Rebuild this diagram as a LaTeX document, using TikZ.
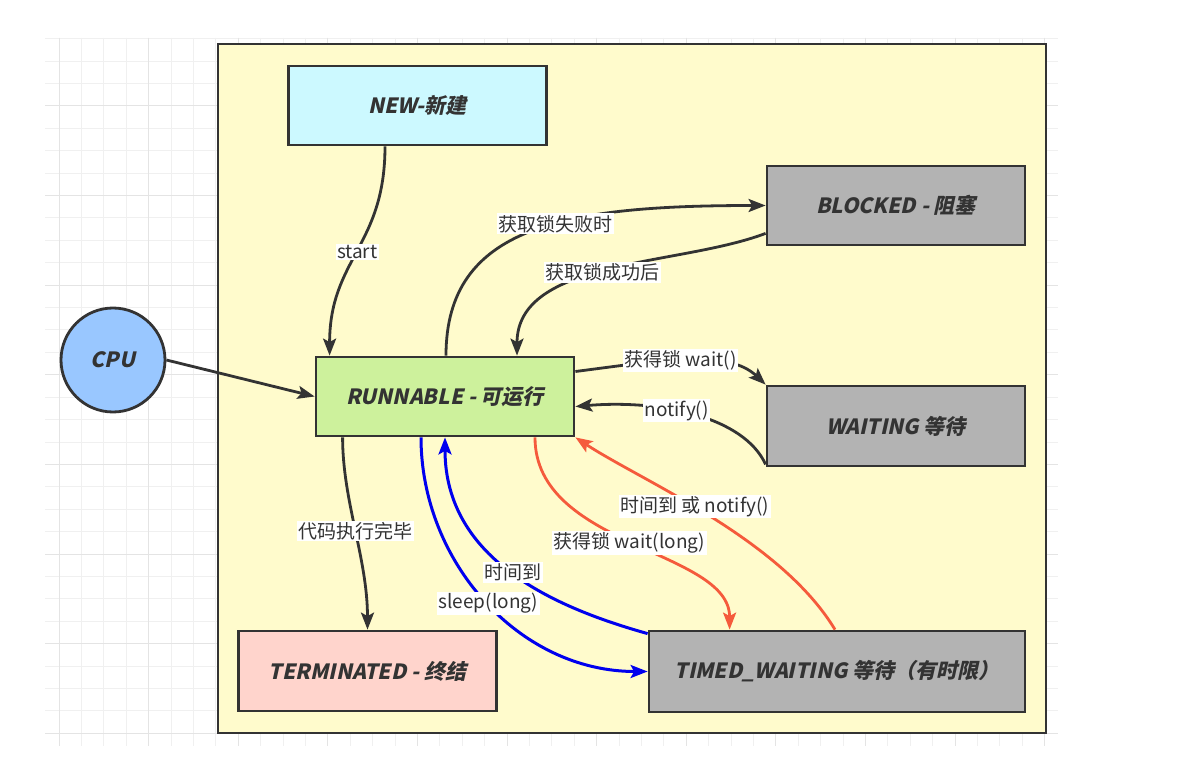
\documentclass[tikz,border=0pt]{standalone}
\usepackage{fontspec}
\setmainfont{Noto Sans CJK SC}
\newfontfamily\boxfont[FakeSlant=0.22]{Noto Sans CJK SC}
\newfontfamily\lblfont{Noto Sans CJK SC}
\usetikzlibrary{arrows.meta}
\definecolor{ink}{HTML}{333333}
\definecolor{gridminor}{HTML}{F0F0F0}
\definecolor{gridmajor}{HTML}{E4E4E4}
\definecolor{framefill}{HTML}{FFFBCC}
\definecolor{newfill}{HTML}{CCF9FF}
\definecolor{runfill}{HTML}{CDF19C}
\definecolor{grayfill}{HTML}{B3B3B3}
\definecolor{termfill}{HTML}{FFD4CC}
\definecolor{cpufill}{HTML}{99C7FF}
\definecolor{redline}{HTML}{F55A3C}
\definecolor{blueline}{HTML}{0000EE}
\tikzset{
  state/.style={draw=ink, line width=2.8pt, minimum height=79pt, minimum width=258pt,
    inner sep=0pt, text=ink, font=\boxfont\bfseries\fontsize{21}{25}\selectfont},
  lbl/.style={fill=white, inner sep=1.5pt, text=ink, font=\lblfont\fontsize{19}{22}\selectfont},
  tip/.style={-{Stealth[length=17pt,width=13pt,inset=3.5pt]}, line join=miter},
  conn/.style={draw=ink, line width=2.8pt, tip},
  bconn/.style={draw=blueline, line width=3pt, tip},
  rconn/.style={draw=redline, line width=2.8pt, tip},
}
\begin{document}
\begin{tikzpicture}[x=1pt,y=-1pt]
\useasboundingbox (0,0) rectangle (1193,775);
\fill[white] (0,0) rectangle (1193,775);
% background grid
\foreach \k in {0,...,44} {
  \pgfmathsetmacro\xx{59+22.4*\k}
  \draw[gridminor, line width=1pt] (\xx,38) -- (\xx,746);
}
\foreach \k in {0,...,31} {
  \pgfmathsetmacro\yy{38.8+22.4*\k}
  \draw[gridminor, line width=1pt] (45,\yy) -- (1058,\yy);
}
\foreach \k in {0,4,...,44} {
  \pgfmathsetmacro\xx{59+22.4*\k}
  \draw[gridmajor, line width=1pt] (\xx,38) -- (\xx,746);
}
\foreach \k in {3,7,...,31} {
  \pgfmathsetmacro\yy{38.8+22.4*\k}
  \draw[gridmajor, line width=1pt] (45,\yy) -- (1058,\yy);
}
% container
\draw[draw=ink, fill=framefill, line width=2.8pt] (218,44) rectangle (1046,733);

% states
\node[state, fill=newfill] (new) at (417.5,105.5) {NEW-新建};
\node[state, fill=grayfill] (blocked) at (896,205.5) {BLOCKED - 阻塞};
\node[state, fill=runfill] (run) at (445,396.5) {RUNNABLE - 可运行};
\node[state, fill=grayfill, minimum height=80pt] (waiting) at (896,426) {WAITING 等待};
\node[state, fill=termfill, minimum height=80pt] (term) at (367.5,671) {TERMINATED - 终结};
\node[state, fill=grayfill, minimum width=376pt, minimum height=81pt] (timed) at (837,671.5) {TIMED\_WAITING 等待（有时限）};
\node[circle, draw=ink, line width=2.8pt, fill=cpufill, minimum size=104pt, inner sep=0pt,
  text=ink, font=\boxfont\bfseries\fontsize{21}{25}\selectfont] (cpu) at (113,360) {CPU};

% connectors
\draw[conn] (cpu.east) -- (run.west);
\draw[conn] ([xshift=-32.5pt]new.south) .. controls +(0,100) and +(0,-97) .. ([xshift=15pt]run.north west)
  node[lbl, pos=0.5] {start};
\draw[conn] ([xshift=1pt]run.north) .. controls +(0,-130) and +(-200,0) .. (blocked.west)
  node[lbl, pos=0.57] {获取锁失败时};
\draw[conn] ([yshift=13pt]blocked.south west) .. controls +(-87,33) and +(0,-97) .. ([xshift=72pt]run.north)
  node[lbl, pos=0.52] {获取锁成功后};
\draw[conn] ([yshift=25pt]run.east) .. controls +(86,-11) and +(-38,-36) .. (waiting.north west)
  node[lbl, pos=0.46] {获得锁 wait()};
\draw[conn] ([yshift=3pt]waiting.south west) .. controls +(-22,-48) and +(84,-7) .. ([yshift=-10pt]run.east)
  node[lbl, pos=0.58] {notify()};
\draw[conn] ([xshift=28pt]run.south west) .. controls +(0,64) and +(0,-71) .. (term.north)
  node[lbl, pos=0.5] {代码执行完毕};
\draw[bconn] ([xshift=-24pt]run.south) .. controls +(0,124) and +(-129,0) .. (timed.west)
  node[lbl, pos=0.51] {sleep(long)};
\draw[bconn] ([yshift=-4pt]timed.north west) .. controls +(-89,-25) and +(0,124) .. (run.south)
  node[lbl, pos=0.5] {时间到};
\draw[rconn] ([xshift=90pt]run.south) .. controls +(0,110) and +(0,-80) .. ([xshift=82pt]timed.north west)
  node[lbl, pos=0.49] {获得锁 wait(long)};
\draw[rconn] ([xshift=-2pt]timed.north) .. controls +(-55,-91) and +(67,44) .. (run.south east)
  node[lbl, pos=0.55] {时间到 或 notify()};
\end{tikzpicture}
\end{document}
